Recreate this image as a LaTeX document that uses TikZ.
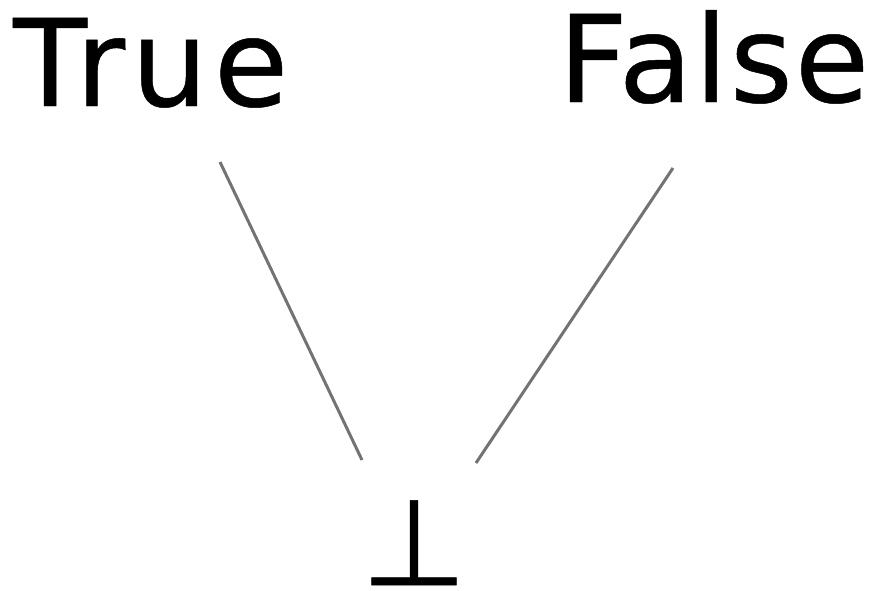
\documentclass[tikz,border=0pt]{standalone}
\usepackage{fontspec}
\setmainfont{DejaVu Sans}
\newfontfamily\trueface[LetterSpace=5,FakeBold=0.4]{DejaVu Sans}
\newfontfamily\falseface[LetterSpace=1.5,FakeBold=0.4]{DejaVu Sans}
\newfontfamily\botface[FakeBold=0.4]{DejaVu Sans}
\begin{document}
\begin{tikzpicture}[x=1pt,y=-1pt,
  lbl/.style={inner sep=0pt,text depth=0pt},
  edge/.style={draw=black!55,line width=3pt}]
\useasboundingbox (0,0) rectangle (871,590);
\node[lbl,anchor=base west,font=\trueface\fontsize{121}{121}\selectfont] (T) at (13,106) {True};
\node[lbl,anchor=base west,font=\falseface\fontsize{121}{121}\selectfont] (F) at (558,102) {False};
\node[lbl,anchor=base,font=\botface\fontsize{121}{121}\selectfont] (B) at (414,585) {⊥};
\coordinate (t1) at (220,162);
\coordinate (b1) at (362,460);
\coordinate (f1) at (673,168);
\coordinate (b2) at (476,463);
\draw[edge] (t1) -- (b1);
\draw[edge] (f1) -- (b2);
\end{tikzpicture}
\end{document}
